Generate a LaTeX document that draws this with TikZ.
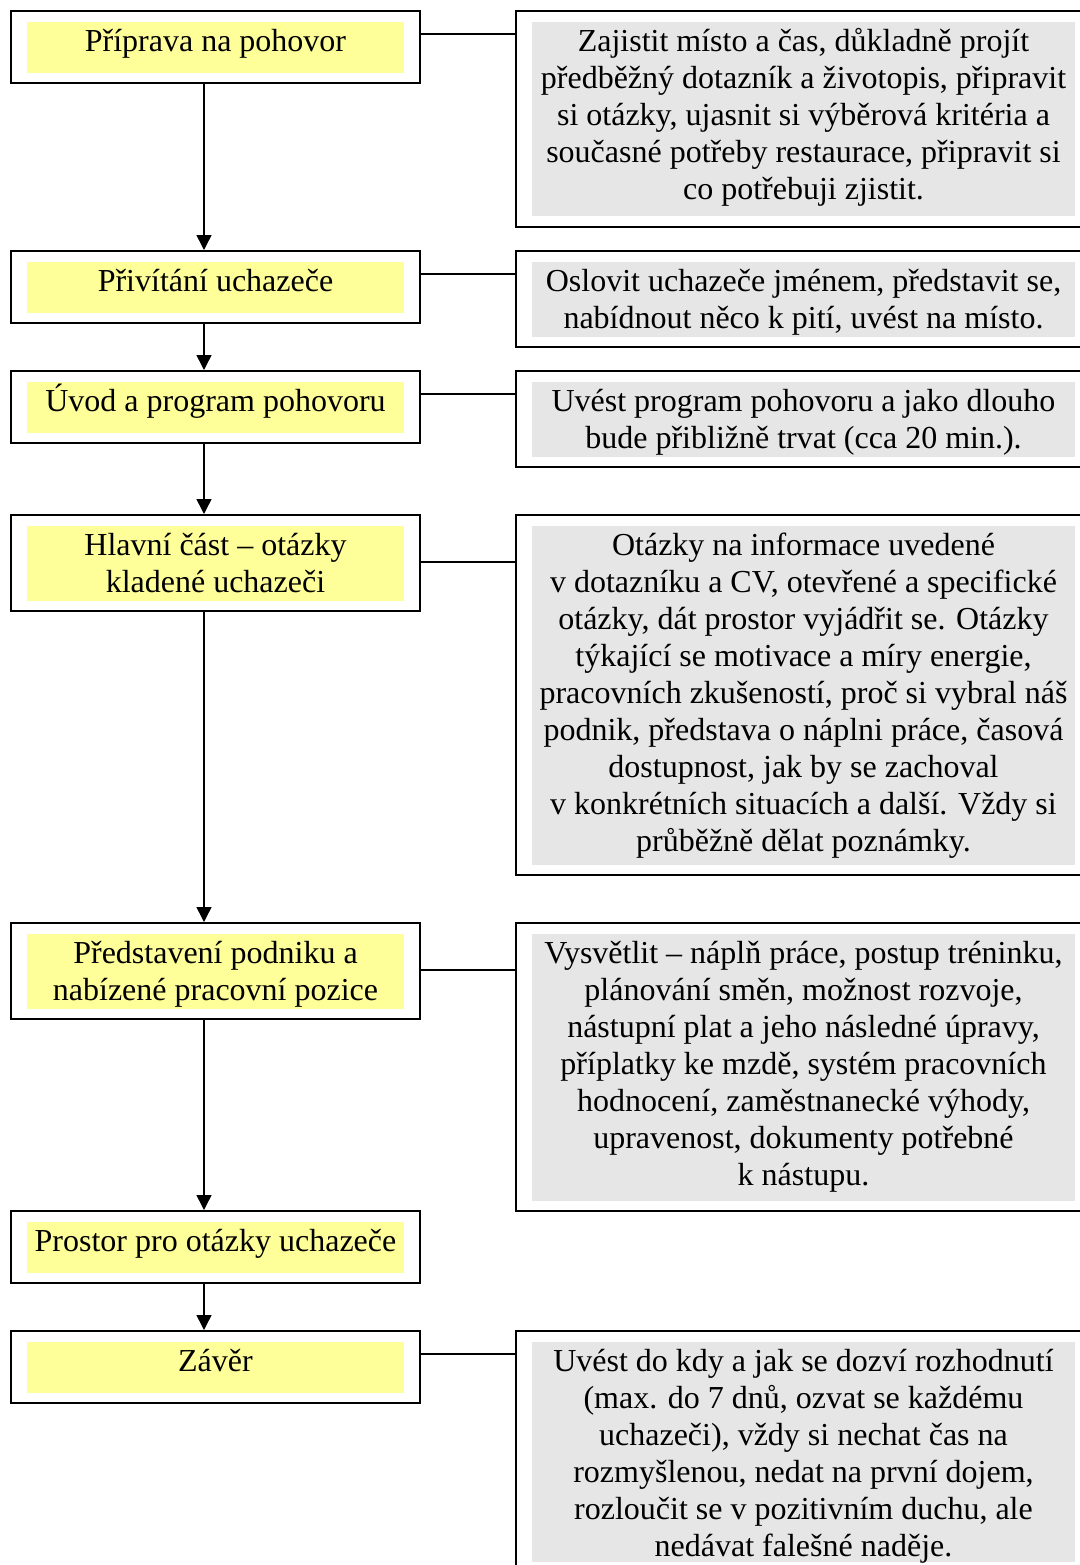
\documentclass[tikz,border=0pt]{standalone}
\usepackage{fontspec}
\setmainfont{Liberation Serif}
\usetikzlibrary{arrows.meta}
\definecolor{stepyellow}{HTML}{FFFF99}
\definecolor{notegray}{HTML}{E6E6E6}
% one drawing unit = 0.5pt
\newcommand\pxl{0.5pt}
% fixes the height of the first line of every box text
\newcommand\topstrut{\rule{0pt}{14.8pt}}
\tikzset{
  frame/.style={draw, line width=1pt, fill=white, inner sep=0pt},
  stepframe/.style={frame, minimum width=409*\pxl},
  noteframe/.style={frame, minimum width=575*\pxl},
  stepfill/.style={fill=stepyellow, inner sep=0pt, minimum width=377*\pxl},
  notefill/.style={fill=notegray, inner sep=0pt, minimum width=543*\pxl},
  boxtext/.style={inner sep=0pt, anchor=north, align=center,
    font=\fontsize{16}{18.5}\selectfont},
  link/.style={line width=0.75pt},
  flow/.style={line width=0.75pt, -{Triangle[width=7.5pt,length=7.5pt]}},
}
\begin{document}
\begin{tikzpicture}[x=0.5pt, y=-0.5pt]
\useasboundingbox (0,0) rectangle (1080,1565);
\fill[white] (0,0) rectangle (1080,1565);
\clip (0,0) rectangle (1080,1565);

% ---- steps (left column) ----
\node[stepframe, minimum height=72*\pxl] (L1) at (215.5,47) {};
\node[stepfill, minimum height=51*\pxl] (L1f) at (L1.center) {};
\node[boxtext] (L1t) at (L1f.north) {\topstrut Příprava na pohovor};

\node[stepframe, minimum height=72*\pxl] (L2) at (215.5,287) {};
\node[stepfill, minimum height=51*\pxl] (L2f) at (L2.center) {};
\node[boxtext] (L2t) at (L2f.north) {\topstrut Přivítání uchazeče};

\node[stepframe, minimum height=72*\pxl] (L3) at (215.5,407) {};
\node[stepfill, minimum height=51*\pxl] (L3f) at (L3.center) {};
\node[boxtext] (L3t) at (L3f.north) {\topstrut Úvod a program pohovoru};

\node[stepframe, minimum height=96*\pxl] (L4) at (215.5,563) {};
\node[stepfill, minimum height=75*\pxl] (L4f) at (L4.center) {};
\node[boxtext] (L4t) at (L4f.north) {\topstrut Hlavní část – otázky\\kladené uchazeči};

\node[stepframe, minimum height=96*\pxl] (L5) at (215.5,971) {};
\node[stepfill, minimum height=75*\pxl] (L5f) at (L5.center) {};
\node[boxtext] (L5t) at (L5f.north) {\topstrut Představení podniku a\\nabízené pracovní pozice};

\node[stepframe, minimum height=72*\pxl] (L6) at (215.5,1247) {};
\node[stepfill, minimum height=51*\pxl] (L6f) at (L6.center) {};
\node[boxtext] (L6t) at (L6f.north) {\topstrut Prostor pro otázky uchazeče};

\node[stepframe, minimum height=72*\pxl] (L7) at (215.5,1367) {};
\node[stepfill, minimum height=51*\pxl] (L7f) at (L7.center) {};
\node[boxtext] (L7t) at (L7f.north) {\topstrut Závěr};

% ---- notes (right column) ----
\node[noteframe, minimum height=216*\pxl] (R1) at (803.5,119) {};
\node[notefill, minimum height=194*\pxl] (R1f) at (R1.center) {};
\node[boxtext] (R1t) at (R1f.north) {\topstrut Zajistit místo a čas, důkladně projít\\
předběžný dotazník a životopis, připravit\\
si otázky, ujasnit si výběrová kritéria a\\
současné potřeby restaurace, připravit si\\
co potřebuji zjistit.};

\node[noteframe, minimum height=96*\pxl] (R2) at (803.5,299) {};
\node[notefill, minimum height=75*\pxl] (R2f) at (R2.center) {};
\node[boxtext] (R2t) at (R2f.north) {\topstrut Oslovit uchazeče jménem, představit se,\\
nabídnout něco k pití, uvést na místo.};

\node[noteframe, minimum height=96*\pxl] (R3) at (803.5,419) {};
\node[notefill, minimum height=75*\pxl] (R3f) at (R3.center) {};
\node[boxtext] (R3t) at (R3f.north) {\topstrut Uvést program pohovoru a jako dlouho\\
bude přibližně trvat (cca 20 min.).};

\node[noteframe, minimum height=360*\pxl] (R4) at (803.5,695) {};
\node[notefill, minimum height=339*\pxl] (R4f) at (R4.center) {};
\node[boxtext] (R4t) at (R4f.north) {\topstrut Otázky na informace uvedené\\
v dotazníku a CV, otevřené a specifické\\
otázky, dát prostor vyjádřit se. Otázky\\
týkající se motivace a míry energie,\\
pracovních zkušeností, proč si vybral náš\\
podnik, představa o náplni práce, časová\\
dostupnost, jak by se zachoval\\
v konkrétních situacích a další. Vždy si\\
průběžně dělat poznámky.};

\node[noteframe, minimum height=288*\pxl] (R5) at (803.5,1067) {};
\node[notefill, minimum height=267*\pxl] (R5f) at (R5.center) {};
\node[boxtext] (R5t) at (R5f.north) {\topstrut Vysvětlit – náplň práce, postup tréninku,\\
plánování směn, možnost rozvoje,\\
nástupní plat a jeho následné úpravy,\\
příplatky ke mzdě, systém pracovních\\
hodnocení, zaměstnanecké výhody,\\
upravenost, dokumenty potřebné\\
k nástupu.};

\node[noteframe, minimum height=242*\pxl] (R6) at (803.5,1452) {};
\node[notefill, minimum height=220*\pxl] (R6f) at (R6.center) {};
\node[boxtext] (R6t) at (R6f.north) {\topstrut Uvést do kdy a jak se dozví rozhodnutí\\
(max. do 7 dnů, ozvat se každému\\
uchazeči), vždy si nechat čas na\\
rozmyšlenou, nedat na první dojem,\\
rozloučit se v pozitivním duchu, ale\\
nedávat falešné naděje.};

% ---- links between steps and notes ----
\draw[link] ([yshift=-12pt]L1.north east) -- ([yshift=-12pt]R1.north west);
\draw[link] ([yshift=-12pt]L2.north east) -- ([yshift=-12pt]R2.north west);
\draw[link] ([yshift=-12pt]L3.north east) -- ([yshift=-12pt]R3.north west);
\draw[link] ([yshift=-24pt]L4.north east) -- ([yshift=-24pt]R4.north west);
\draw[link] ([yshift=-24pt]L5.north east) -- ([yshift=-24pt]R5.north west);
\draw[link] ([yshift=-12pt]L7.north east) -- ([yshift=-12pt]R6.north west);

% ---- flow arrows ----
\draw[flow] ([xshift=-5.75pt]L1.south) -- ([xshift=-5.75pt]L2.north);
\draw[flow] ([xshift=-5.75pt]L2.south) -- ([xshift=-5.75pt]L3.north);
\draw[flow] ([xshift=-5.75pt]L3.south) -- ([xshift=-5.75pt]L4.north);
\draw[flow] ([xshift=-5.75pt]L4.south) -- ([xshift=-5.75pt]L5.north);
\draw[flow] ([xshift=-5.75pt]L5.south) -- ([xshift=-5.75pt]L6.north);
\draw[flow] ([xshift=-5.75pt]L6.south) -- ([xshift=-5.75pt]L7.north);
\end{tikzpicture}
\end{document}
